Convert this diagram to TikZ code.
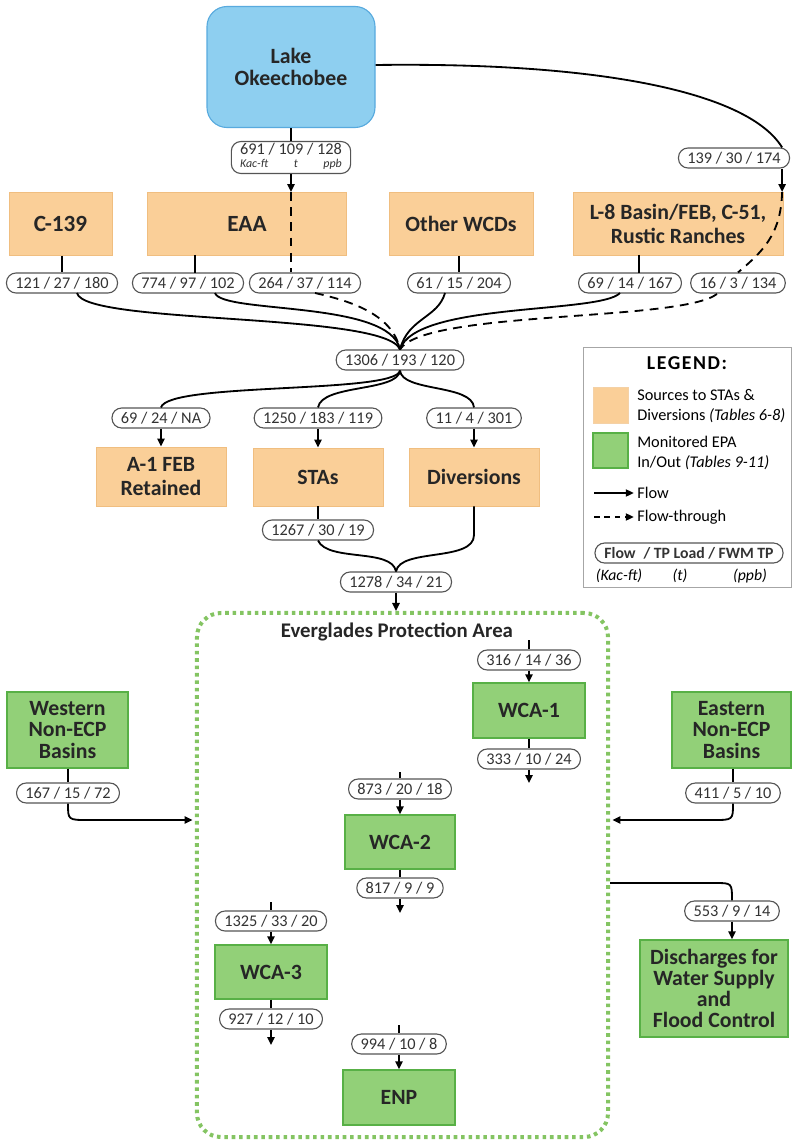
\documentclass[tikz,border=0pt]{standalone}
\usepackage{fontspec}
\setmainfont{Carlito}
\usetikzlibrary{arrows.meta}
\definecolor{lakeblue}{RGB}{142,207,240}
\definecolor{lakeedge}{RGB}{88,170,222}
\definecolor{srcfill}{RGB}{250,207,152}
\definecolor{srcedge}{RGB}{240,190,128}
\definecolor{epafill}{RGB}{146,208,120}
\definecolor{epaedge}{RGB}{88,176,70}
\definecolor{epadots}{RGB}{132,196,98}
\definecolor{lbledge}{RGB}{85,85,85}

\begin{document}
\begin{tikzpicture}[
    x=0.25mm, y=-0.25mm,
    flow/.style={line width=1.3pt, -{Triangle[length=2mm,width=1.8mm]}},
    link/.style={line width=1.3pt},
    thru/.style={line width=1.3pt, dash pattern=on 2.2mm off 1.6mm},
    boxtext/.style={font=\fontsize{15.5}{15}\selectfont\bfseries, align=center, text=black!85},
    lake/.style={boxtext, draw=lakeedge, fill=lakeblue, line width=0.8pt, rounded corners=5mm},
    src/.style={boxtext, fill=srcfill, draw=srcedge, line width=0.6pt},
    epa/.style={boxtext, fill=epafill, draw=epaedge, line width=1pt},
    lbl/.style={draw=lbledge, fill=white, line width=0.8pt, rounded corners=2.4mm,
        minimum height=5mm, inner xsep=2.2mm, inner ysep=0pt, font=\fontsize{11.6}{13}\selectfont, text=black!80},
    legtext/.style={anchor=west, align=left, inner sep=0pt, font=\fontsize{11.6}{14}\selectfont},
]
\useasboundingbox (0,0) rectangle (792,1142);

% sources
\node[lake, minimum width=42mm, minimum height=30.25mm] (lake) at (291,67) {Lake\\[1pt]Okeechobee};
\node[src, minimum width=25.75mm, minimum height=15.75mm] (c139) at (60.5,224) {\fontsize{16.5}{16}\selectfont C-139};
\node[src, minimum width=49.75mm, minimum height=15.75mm] (eaa)  at (247,224)  {\fontsize{16.5}{16}\selectfont EAA};
\node[src, minimum width=36mm,    minimum height=15.75mm] (wcd)  at (461,224)  {Other WCDs};
\node[src, minimum width=52.5mm,  minimum height=15.75mm] (l8)   at (678,224)  {L-8 Basin/FEB, C-51,\\[2pt]Rustic Ranches};

\node[lbl, minimum height=8mm] (lbl691) at (291,157.5)
    {\begin{tabular}{@{}c@{}}691 / 109 / 128\\[-4pt]\fontsize{8.5}{9}\selectfont\itshape Kac-ft\hfill t\hfill ppb\end{tabular}};
\node[lbl] (lbl139) at (734,158) {139 / 30 / 174};
\node[lbl] (lbl121) at (62,283)  {121 / 27 / 180};
\node[lbl] (lbl774) at (188,283) {774 / 97 / 102};
\node[lbl] (lbl264) at (305,283) {264 / 37 / 114};
\node[lbl] (lbl61)  at (459,283) {61 / 15 / 204};
\node[lbl] (lbl69)  at (630,283) {69 / 14 / 167};
\node[lbl] (lbl16)  at (738,283) {16 / 3 / 134};
\node[lbl] (lbl1306) at (400,360) {1306 / 193 / 120};

\draw[link] (lake.south) -- (lbl691.north);
\draw[flow] (lbl691.south) -- (lbl691.south |- eaa.north);
\draw[thru] (lbl691.south |- eaa.north) -- (lbl691.south |- lbl264.north);
\draw[link] (lake.east |- 0,65) .. controls (600,62) and (748,92) .. ([xshift=-2mm]lbl139.north east);
\draw[flow] ([xshift=-2mm]lbl139.south east) -- ([xshift=-2mm]lbl139.south east |- l8.north);
\draw[thru] ([xshift=-2mm]lbl139.south east |- l8.north) .. controls (781,235) and (762,252) .. (lbl16.north);

\draw[link] (c139.south -| lbl121.south) -- (lbl121.north);
\draw[link] (195,255) -- (195,273);
\draw[link] (wcd.south -| lbl61.north) -- (lbl61.north);
\draw[link] (639,255) -- (639,273);

% into the STAs junction
\draw[link] (77,293) .. controls (84,325) and (385,312) .. (lbl1306.north);
\draw[link] (215,293) .. controls (222,314) and (390,300) .. (lbl1306.north);
\draw[thru] (315,293) .. controls (345,300) and (392,312) .. (lbl1306.north);
\draw[link] (445,293) .. controls (438,318) and (408,318) .. (lbl1306.north);
\draw[link] (620,293) .. controls (600,314) and (415,302) .. (lbl1306.north);
\draw[thru] (717,294) .. controls (680,322) and (425,310) .. (lbl1306.north);

% STAs and diversions
\node[lbl] (lbl69b)  at (161,418) {69 / 24 / NA};
\node[lbl] (lbl1250) at (318,418) {1250 / 183 / 119};
\node[lbl] (lbl11)   at (474,418) {11 / 4 / 301};
\node[src, minimum width=32.5mm, minimum height=14.75mm] (a1)  at (161,476.5) {A-1 FEB\\[2pt]Retained};
\node[src, minimum width=32.5mm, minimum height=14.5mm]  (stas) at (318,477) {STAs};
\node[src, minimum width=32.5mm, minimum height=14.5mm]  (div)  at (474,477) {Diversions};

\draw[link] (lbl1306.south) .. controls (396,394) and (168,382) .. (lbl69b.north);
\draw[link] (lbl1306.south) .. controls (398,392) and (322,384) .. (lbl1250.north);
\draw[link] (lbl1306.south) .. controls (402,392) and (472,384) .. (lbl11.north);
\draw[flow] (lbl69b.south) -- (a1.north);
\draw[flow] (lbl1250.south) -- (stas.north);
\draw[flow] (lbl11.south) -- (div.north);

\node[lbl] (lbl1267) at (318,530) {1267 / 30 / 19};
\node[lbl] (lbl1278) at (396,582) {1278 / 34 / 21};
\draw[link] (stas.south) -- (lbl1267.north);
\draw[link] (lbl1267.south) .. controls (328,562) and (392,548) .. (lbl1278.north);
\draw[link] (div.south) -- (474,535) .. controls (474,562) and (400,548) .. (lbl1278.north);

% Everglades Protection Area
\node[draw=epadots, line width=1mm, dash pattern=on 0.9mm off 0.95mm, rounded corners=6mm,
    minimum width=102.75mm, minimum height=131mm] (area) at (402.5,875) {};
\node[boxtext, font=\fontsize{14.8}{15}\selectfont\bfseries] (areaname) at (397,632) {Everglades Protection Area};
\draw[flow] (lbl1278.south) -- (lbl1278.south |- area.north);

\node[lbl] (lbl316) at (529,660) {316 / 14 / 36};
\node[epa, minimum width=28mm, minimum height=13.75mm] (wca1) at (529,710.5) {WCA-1};
\node[lbl] (lbl333) at (529,759) {333 / 10 / 24};
\node[lbl] (lbl873) at (400,789) {873 / 20 / 18};
\node[epa, minimum width=27.5mm, minimum height=13.5mm] (wca2) at (400,842) {WCA-2};
\node[lbl] (lbl817) at (400,888) {817 / 9 / 9};
\node[lbl] (lbl1325) at (271,921) {1325 / 33 / 20};
\node[epa, minimum width=28mm, minimum height=13.5mm] (wca3) at (271,972) {WCA-3};
\node[lbl] (lbl927) at (271,1019) {927 / 12 / 10};
\node[lbl] (lbl994) at (399,1044) {994 / 10 / 8};
\node[epa, minimum width=28mm, minimum height=13.75mm] (enp) at (399,1097.5) {ENP};

\coordinate (in1) at (529,640);
\coordinate (out1) at (529,783);
\coordinate (in2) at (400,772);
\coordinate (out2) at (400,913);
\coordinate (in3) at (271,902);
\coordinate (out3) at (271,1045);
\coordinate (in4) at (399,1025);

\draw[link] (in1) -- (lbl316.north);
\draw[flow] (lbl316.south) -- (wca1.north);
\draw[link] (wca1.south) -- (lbl333.north);
\draw[flow] (lbl333.south) -- (out1);
\draw[link] (in2) -- (lbl873.north);
\draw[flow] (lbl873.south) -- (wca2.north);
\draw[link] (wca2.south) -- (lbl817.north);
\draw[flow] (lbl817.south) -- (out2);
\draw[link] (in3) -- (lbl1325.north);
\draw[flow] (lbl1325.south) -- (wca3.north);
\draw[link] (wca3.south) -- (lbl927.north);
\draw[flow] (lbl927.south) -- (out3);
\draw[link] (in4) -- (lbl994.north);
\draw[flow] (lbl994.south) -- (enp.north);

% basins outside the EPA
\node[epa, minimum width=30.25mm, minimum height=19mm] (west) at (67.5,730) {Western\\Non-ECP\\Basins};
\node[epa, minimum width=29.75mm, minimum height=19mm] (east) at (731.5,730) {Eastern\\Non-ECP\\Basins};
\node[lbl] (lbl167) at (68,793) {167 / 15 / 72};
\node[lbl] (lbl411) at (733,793) {411 / 5 / 10};
\draw[link] (west.south -| lbl167.north) -- (lbl167.north);
\draw[link] (east.south -| lbl411.north) -- (lbl411.north);
\draw[flow, shorten >=0.6mm] (lbl167.south) .. controls (68,820) .. (88,820) -- (area.west |- 0,820);
\draw[flow, shorten >=0.6mm] (lbl411.south) .. controls (733,820) .. (713,820) -- (area.east |- 0,820);

\node[lbl] (lbl553) at (732,911) {553 / 9 / 14};
\node[epa, minimum width=37mm, minimum height=24.25mm] (disch) at (714,988.5) {Discharges for\\Water Supply\\and\\Flood Control};
\draw[link] (area.east |- 0,883) -- (715,883) .. controls (732,883) .. (lbl553.north);
\draw[flow] (lbl553.south) -- (lbl553.south |- disch.north);

% legend
\draw[gray!70, line width=0.7pt] (583,347) rectangle (791,587);
\node[font=\fontsize{14}{16}\selectfont\bfseries\addfontfeature{LetterSpace=8}] (legtitle) at (687,363) {LEGEND:};
\draw[fill=srcfill, draw=srcedge!70] (593,387) rectangle (628,423);
\draw[fill=epafill, draw=epaedge, line width=0.8pt] (593,433) rectangle (628,468);
\node[legtext] (legsrc) at (637,406) {Sources to STAs \&\\Diversions \textit{(Tables 6-8)}};
\node[legtext] (legepa) at (637,453) {Monitored EPA\\In/Out \textit{(Tables 9-11)}};
\node[legtext] (legflow) at (637,493) {Flow};
\node[legtext] (legthru) at (637,517) {Flow-through};
\draw[flow, line width=1pt] (594,493) -- ([xshift=-0.8mm]legflow.west);
\draw[flow, line width=1pt, dash pattern=on 1.4mm off 1.2mm] (594,517) -- ([xshift=-0.8mm]legthru.west);
\node[lbl, minimum width=47mm, inner xsep=1.5mm, font=\fontsize{11.2}{13}\selectfont\bfseries] (legkey) at (689,553)
    {Flow\enspace/ TP Load / FWM TP};
\node[font=\fontsize{11.2}{12}\selectfont\itshape] (legu1) at (619,576) {(Kac-ft)};
\node[font=\fontsize{11.2}{12}\selectfont\itshape] (legu2) at (680,576) {(t)};
\node[font=\fontsize{11.2}{12}\selectfont\itshape] (legu3) at (750,576) {(ppb)};
\end{tikzpicture}
\end{document}
